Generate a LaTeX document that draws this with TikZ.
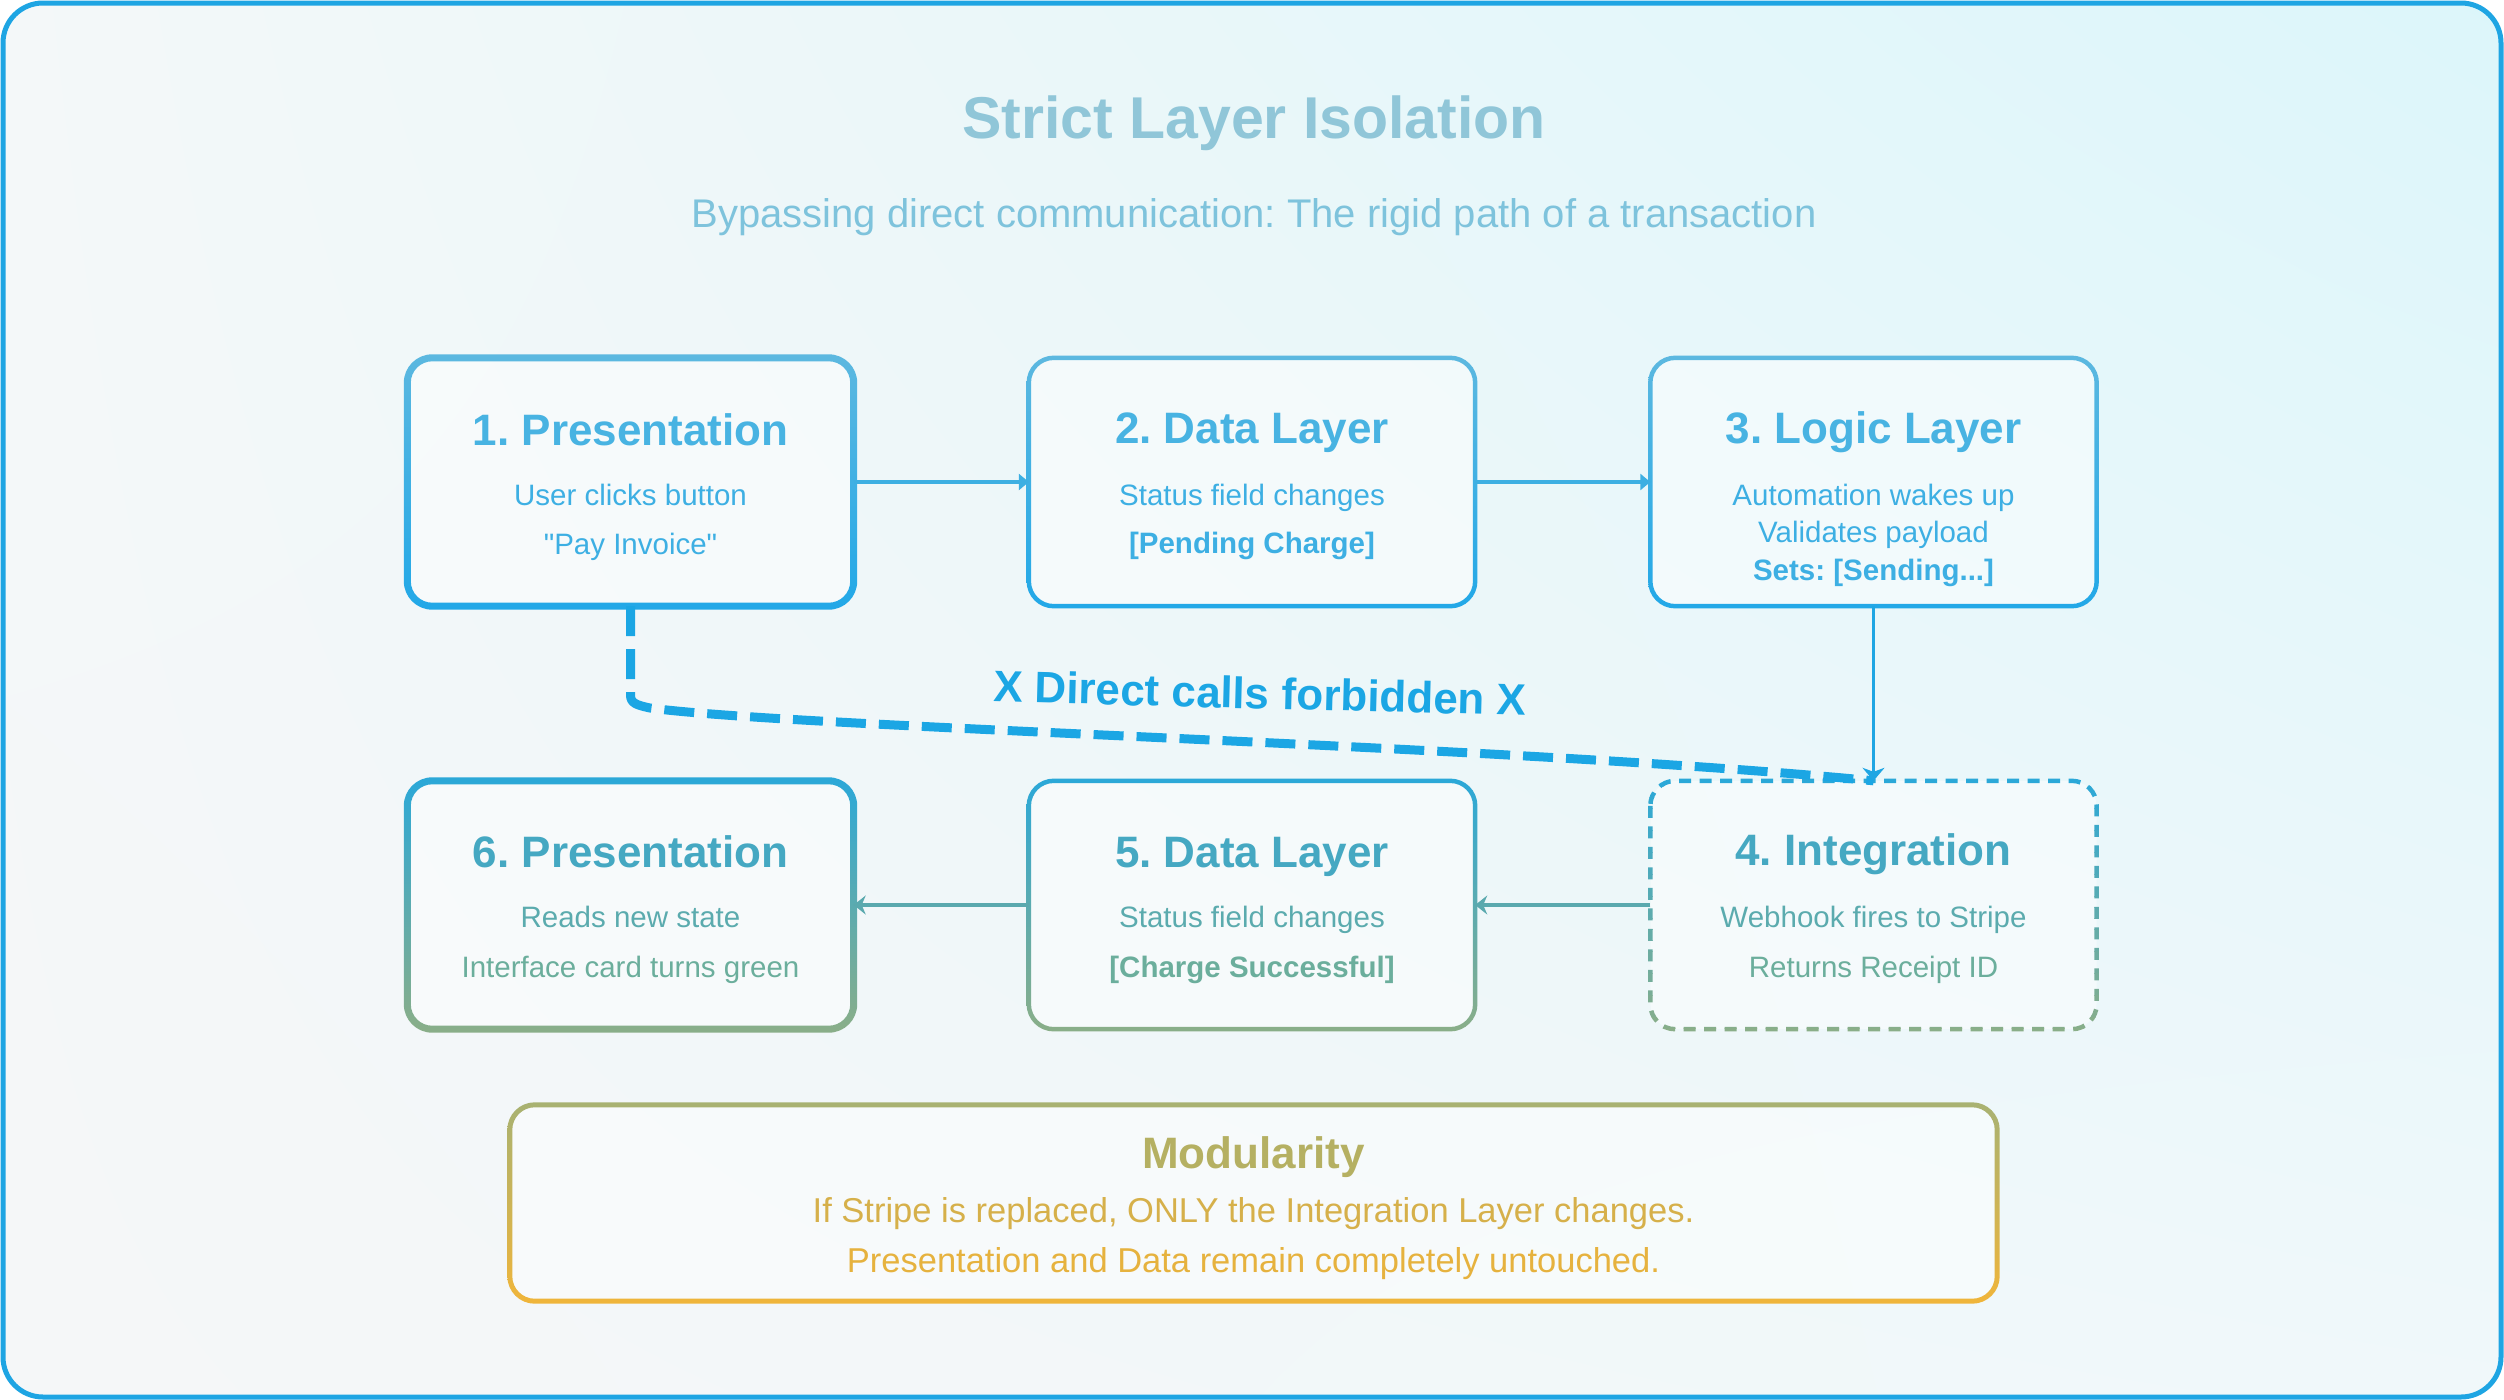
\documentclass[tikz,border=0pt]{standalone}
\usepackage{fontspec}
\setmainfont{Liberation Sans}
\usetikzlibrary{arrows.meta,calc,shadings}
\frenchspacing
\newcommand\sq{\XeTeXglyph\XeTeXcharglyph"22\relax}

\definecolor{outerc}{HTML}{1EA5E3}
\definecolor{bgUL}{HTML}{F4F8F9}
\definecolor{bgUR}{HTML}{DCF6FA}
\definecolor{bgLL}{HTML}{F5F7F8}
\definecolor{bgLR}{HTML}{F0F8FA}
\definecolor{titlec}{HTML}{90C6D8}
\definecolor{subc}{HTML}{7EC3DC}
\definecolor{topA}{HTML}{5CB8E0}
\definecolor{topB}{HTML}{22A8E7}
\definecolor{topT}{HTML}{48B3E2}
\definecolor{topL}{HTML}{3DAFE3}
\definecolor{rowtop}{HTML}{2BA8D8}
\definecolor{rowbot}{HTML}{8AAE88}
\definecolor{rowT}{HTML}{45A8C2}
\definecolor{rowL}{HTML}{5BABAE}
\definecolor{rowM}{HTML}{6BAE9C}
\definecolor{modtop}{HTML}{A8B272}
\definecolor{modbot}{HTML}{F0B53A}
\definecolor{modT}{HTML}{B5B062}
\definecolor{modA}{HTML}{D6B04A}
\definecolor{modB}{HTML}{E6B23E}
\definecolor{forbc}{HTML}{1BA6E4}
\definecolor{arrA}{HTML}{3DAFE2}
\definecolor{arrV}{HTML}{1FA6E3}
\definecolor{arrB}{HTML}{5AA9AE}

% #1 node, #2 outer offset, #3 outer radius, #4 inner radius, #5 top colour, #6 bottom colour
\newcommand\gradring[6]{%
  \shade[even odd rule, top color=#5, bottom color=#6]
    [rounded corners=#3pt] ([shift={(-#2pt,#2pt)}]#1.north west) rectangle ([shift={(#2pt,-#2pt)}]#1.south east)
    [rounded corners=#4pt] ([shift={(#2pt,-#2pt)}]#1.north west) rectangle ([shift={(-#2pt,#2pt)}]#1.south east);}

\begin{document}
\begin{tikzpicture}[x=1pt,y=-1pt,
  boxn/.style={rectangle, minimum width=446pt, minimum height=248pt, inner sep=0pt,
    fill=white, fill opacity=0.45, rounded corners=25pt},
  txt/.style={anchor=base, inner sep=0pt},
  btitle/.style={txt, font=\bfseries\fontsize{44}{52}\selectfont},
  bline/.style={txt, font=\fontsize{29.5}{36}\selectfont},
  bbold/.style={txt, font=\bfseries\fontsize{29.5}{36}\selectfont},
  flowA/.style={line width=3.5pt, arrA, -{Triangle[length=10pt,width=16pt]}},
  flowV/.style={line width=3.5pt, arrV, -{Stealth[length=13pt,width=22pt,inset=4pt]}},
  flowB/.style={line width=3.5pt, arrB, -{Stealth[length=12pt,width=19pt,inset=4pt]}},
  forbid/.style={line width=9pt, forbc, dash pattern=on 30pt off 13pt},
  dashbox/.style={line width=4.5pt, dash pattern=on 12pt off 8.5pt, rounded corners=25pt}]

\useasboundingbox (0,0) rectangle (2504,1400);
\fill[white] (0,0) rectangle (2504,1400);
\begin{scope}
  \clip[rounded corners=40pt] (3,3) rectangle (2501,1397);
  \shade[upper left=bgUL, upper right=bgUR, lower left=bgLL, lower right=bgLR] (0,0) rectangle (2504,1400);
\end{scope}
\draw[outerc, line width=5pt, rounded corners=40pt] (3,3) rectangle (2501,1397);

% titles
\node[txt, font=\bfseries\fontsize{59}{70}\selectfont, text=titlec] (title) at (1254,138) {Strict Layer Isolation};
\node[txt, font=\fontsize{40}{48}\selectfont, text=subc] (sub) at (1254,227) {Bypassing direct communication: The rigid path of a transaction};

% boxes
\node[boxn] (b1) at (630.5,482) {};
\node[boxn] (b2) at (1252,482) {};
\node[boxn] (b3) at (1873.5,482) {};
\node[boxn] (b6) at (630.5,905) {};
\node[boxn] (b5) at (1252,905) {};
\node[boxn] (b4) at (1873.5,905) {};
\node[rectangle, minimum width=1487pt, minimum height=196pt, inner sep=0pt, fill=white, fill opacity=0.45, rounded corners=25pt] (mod) at (1253.5,1203) {};

\gradring{b1}{3.5}{28.5}{21.5}{topA}{topB}
\gradring{b2}{2.25}{27.25}{22.75}{topA}{topB}
\gradring{b3}{2.25}{27.25}{22.75}{topA}{topB}
\gradring{b6}{3.5}{28.5}{21.5}{rowtop}{rowbot}
\gradring{b5}{2.25}{27.25}{22.75}{rowtop}{rowbot}
\gradring{mod}{2.5}{27.5}{22.5}{modtop}{modbot}

% dashed box 4 with vertical colour gradient
\foreach \i in {0,...,23}{
  \pgfmathsetmacro\pc{100-\i*100/23}
  \colorlet{stripec}{rowtop!\pc!rowbot}
  \begin{scope}
    \clip (1630,{775+\i*11}) rectangle (2120,{775+(\i+1)*11});
    \draw[dashbox, stripec] (b4.north west) rectangle (b4.south east);
  \end{scope}
}

% texts row 1
\node[btitle, text=topT] (t1) at (630.5,445) {1. Presentation};
\node[bline, text=topL] (t1a) at (630.5,505) {User clicks button};
\node[bline, text=topL] (t1b) at (630.5,554) {\sq Pay Invoice\sq};

\node[btitle, text=topT] (t2) at (1252,443) {2. Data Layer};
\node[bline, text=topL] (t2a) at (1252,505) {Status field changes};
\node[bbold, text=topL] (t2b) at (1252,553) {[Pending Charge]};

\node[btitle, text=topT] (t3) at (1873.5,443) {3. Logic Layer};
\node[bline, text=topL] (t3a) at (1873.5,505) {Automation wakes up};
\node[bline, text=topL] (t3b) at (1873.5,542) {Validates payload};
\node[bbold, text=topL] (t3c) at (1873.5,580) {Sets: [Sending...]};

% texts row 2
\node[btitle, text=rowT] (t6) at (630.5,867) {6. Presentation};
\node[bline, text=rowL] (t6a) at (630.5,927) {Reads new state};
\node[bline, text=rowM] (t6b) at (630.5,977) {Interface card turns green};

\node[btitle, text=rowT] (t5) at (1252,867) {5. Data Layer};
\node[bline, text=rowL] (t5a) at (1252,927) {Status field changes};
\node[bbold, text=rowM] (t5b) at (1252,977) {[Charge Successful]};

\node[btitle, text=rowT] (t4) at (1873.5,865) {4. Integration};
\node[bline, text=rowL] (t4a) at (1873.5,927) {Webhook fires to Stripe};
\node[bline, text=rowM] (t4b) at (1873.5,977) {Returns Receipt ID};

% modularity
\node[btitle, text=modT] (mt) at (1253.5,1168) {Modularity};
\node[txt, font=\fontsize{34.5}{42}\selectfont, text=modA] (ma) at (1253.5,1222) {If Stripe is replaced, ONLY the Integration Layer changes.};
\node[txt, font=\fontsize{34.5}{42}\selectfont, text=modB] (mb) at (1253.5,1272) {Presentation and Data remain completely untouched.};

% forbidden direct call
\draw[forbid] (b1.south) -- (630.5,695) .. controls (630.5,703) and (636,705) .. (650,708)
  .. controls (800,728) and (1500,745) .. (b4.north);
\node[font=\bfseries\fontsize{44}{52}\selectfont, text=forbc, rotate=-1.5, inner sep=0pt] (fl) at (1260,693) {X Direct calls forbidden X};

% connectors
\draw[flowA] (b1.east) -- (b2.west);
\draw[flowA] (b2.east) -- (b3.west);
\draw[flowV] (b3.south) -- (b4.north);
\draw[flowB] (b4.west) -- (b5.east);
\draw[flowB] (b5.west) -- (b6.east);

\end{tikzpicture}
\end{document}
